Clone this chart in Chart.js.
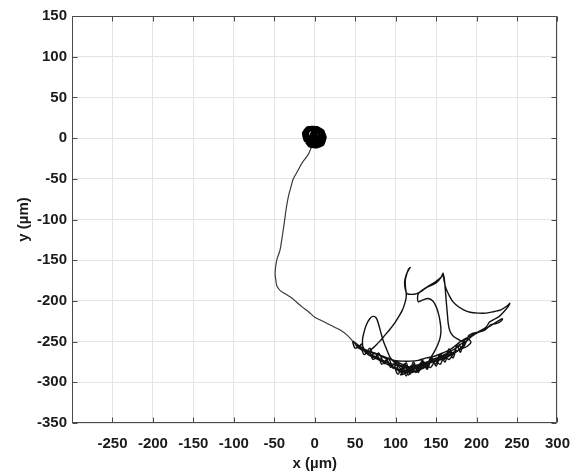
<!DOCTYPE html>
<html>
<head>
<meta charset="utf-8">
<script src="https://cdn.jsdelivr.net/npm/chart.js@4.4.1/dist/chart.umd.min.js"></script>
<style>
  html, body { margin: 0; padding: 0; background: #ffffff; }
  #wrap { position: relative; width: 582px; height: 474px; }
</style>
</head>
<body>
<div id="wrap"><canvas id="trajetoria"></canvas></div>
<script>
/* trajetória de uma célula: posição (x, y) em µm */

const xTicks = [-300, -250, -200, -150, -100, -50, 0, 50, 100, 150, 200, 250, 300];
const yTicks = [150, 100, 50, 0, -50, -100, -150, -200, -250, -300, -350];

// aglomerado inicial em torno da origem
const originCluster = [
  [-4,-11],[-8,-6],[-12,0],[-10,8],[-4,12],[4,11],[10,6],[11,-2],[6,-8],[0,-10],
  [-7,-4],[-11,4],[-6,10],[2,8],[8,2],[9,-6],[2,-9],[-5,-8],[-9,2],[-8,9],
  [0,12],[7,9],[11,3],[7,-5],[-1,-6],[-6,0],[-3,7],[5,6],[6,-2],[0,-4],
  [-4,3],[1,4],[3,-1],[-2,-2],[-12,-3],[-14,6],[-9,13],[3,13],[10,9],[13,1],
  [10,-8],[3,-11],[-6,-10],[-10,-5],[-2,1],[4,2],[-4,-11]
];

// descida até a bacia
const descent = [
  [-4,-11],[-8,-20],[-16,-31],[-22,-42],[-26.5,-50],[-30,-62],[-32.6,-72],[-35,-85],
  [-36.7,-97],[-38.5,-110],[-40.8,-125],[-43,-138],[-47,-150],[-49,-166],[-48,-175],
  [-47,-181],[-43,-187],[-37,-191],[-30.6,-195],[-23,-201],[-16,-207],[-8,-213],
  [0,-220],[8,-224],[16,-228],[24,-232],[32,-236],[40,-242],[46.5,-249]
];

// movimento na bacia (y ~ -250 a -290) com excursões
const basin = [
  [46.5,-249],[52,-253],[58,-257],[65,-261],[72,-264],[80,-267],[89,-271],[98,-273],
  [108,-274],[118,-274],[128,-273],[138,-270],[148,-268],[158,-264],[167,-260],[174,-255],
  [180,-250],[185,-247],
  [191,-244],[198,-240],[206,-236],[212,-232],[216,-226],[221,-223],[228,-219],[234,-213],
  [239,-207],[241,-203],[238,-206],[230,-211],[222,-213],[212,-215],[202,-215],[192,-214],
  [184,-211],[176,-206],[170,-200],[166,-193],[162,-184],[160,-176],[159,-169],[158.5,-166],
  [160,-172],[161,-182],[162,-194],[163,-206],[164,-217],[165,-228],[167,-237],[171,-243],
  [177,-247],[183,-250],
  [187,-250],[182,-259],[177,-252],[171,-266],[166,-259],[160,-272],[155,-265],[149,-278],
  [144,-270],[138,-283],[133,-273],[127,-287],[122,-275],[116,-291],[111,-277],[105,-288],
  [100,-275],[94,-282],[89,-272],[83,-278],[78,-268],[72,-272],[67,-262],[61,-266],
  [56,-256],[50,-258],[47,-251],
  [48,-250],[54,-258],[58,-253],[63,-264],[68,-258],[74,-270],[79,-264],[86,-277],
  [91,-270],[97,-283],[102,-274],[108,-289],[113,-276],[118,-290],[123,-277],[128,-288],
  [134,-274],[139,-284],[145,-270],[150,-280],[156,-267],[161,-275],[166,-262],[171,-270],
  [176,-255],[180,-263],[185,-248],
  [190,-247],[193,-251],[188,-256],[181,-259],
  [172,-263],[160,-268],[148,-273],[136,-278],[124,-282],[112,-287],[104,-286],[96,-281],
  [86,-276],[76,-271],[66,-266],[60,-258],[59,-248],[61,-238],[64,-229],[68,-222],
  [72,-219],[76,-221],[79,-229],[82,-240],[85,-250],[89,-260],[93,-269],[99,-276],
  [108,-280],[118,-282],[130,-280],[142,-276],[154,-270],[164,-264],
  [156,-270],[144,-275],[130,-279],[118,-281],[106,-277],[95,-272],[84,-268],[74,-264],
  [68,-262],
  [74,-256],[80,-250],[86,-243],[92,-236],[99,-227],[104,-219],[108,-212],[111,-204],
  [113,-196],[113,-190],[112,-182],[112,-174],[114,-166],[116,-161],[118,-159],
  [116,-162],[113,-168],[111,-177],[112,-186],[114,-191],[120,-192],[126,-191],
  [132,-188],[139,-183],[146,-180],[152,-176],[156,-171],[158.5,-166],
  [157,-170],[150,-176],[142,-181],[134,-186],[128,-191],
  [127,-197],[128,-201],[133,-199],[140,-197],[146,-200],[150,-207],[153,-216],[155,-226],
  [156,-236],[155,-245],[152,-254],[148,-262],
  [142,-272],[136,-282],[131,-276],[125,-288],[119,-280],[113,-292],[108,-282],[103,-290],
  [99,-281],[106,-286],[112,-279],[118,-287],[124,-279],[130,-285],[137,-277],[143,-282],
  [149,-274],[155,-278],[160,-269],[166,-272],[170,-266],
  [160,-271],[150,-274],[140,-277],[130,-281],[120,-285],[112,-289],[106,-291],[110,-287],
  [118,-283],[126,-279],[136,-276],[146,-272],[158,-267],[168,-262],[176,-257],
  [182,-252],[188,-249],[190,-243],[195,-240],[203,-238],[210,-236],[218,-229],[224,-228],
  [230,-225],[232,-222],[226,-225],[218,-230],[208,-236],[198,-241],[190,-247],[183,-255],
  [176,-262],
  [168,-266],[158,-270],[146,-275],[134,-279],[122,-283],[112,-286],[100,-283],[90,-276],
  [80,-271],[70,-266],[60,-260],[52,-255],[56,-259],[64,-263],[74,-268],[84,-273],
  [94,-277],[104,-280],[114,-281],[124,-281],[134,-278],
  [128,-284],[120,-288],[114,-284],[108,-288],[112,-282],[120,-283],[128,-280],[136,-281],
  [142,-277],[134,-283],[124,-286],[116,-287]
];

function toPoints(arr) {
  return arr.map(function (p) { return { x: p[0], y: p[1] }; });
}

const FONT = 'Liberation Sans, Arial, Helvetica, sans-serif';
const colors = {
  grid: '#e4e4e4',
  frame: '#4a4a4a',
  text: '#1a1a1a',
  line: '#111111'
};

// moldura com marcas para dentro, estilo MATLAB
const framePlugin = {
  id: 'frame',
  afterDatasetsDraw: function (chart) {
    const ctx = chart.ctx;
    const a = chart.chartArea;
    const sx = chart.scales.x, sy = chart.scales.y;
    const L = Math.round(a.left) + 0.5, R = Math.round(a.right) - 0.5;
    const T = Math.round(a.top) + 0.5, B = Math.round(a.bottom) - 0.5;
    const len = 5;
    ctx.save();
    ctx.strokeStyle = colors.frame;
    ctx.lineWidth = 1;
    ctx.beginPath();
    ctx.rect(L, T, R - L, B - T);
    xTicks.forEach(function (v) {
      const px = Math.round(sx.getPixelForValue(v)) + 0.5;
      ctx.moveTo(px, B); ctx.lineTo(px, B - len);
      ctx.moveTo(px, T); ctx.lineTo(px, T + len);
    });
    yTicks.forEach(function (v) {
      const py = Math.round(sy.getPixelForValue(v)) + 0.5;
      ctx.moveTo(L, py); ctx.lineTo(L + len, py);
      ctx.moveTo(R, py); ctx.lineTo(R - len, py);
    });
    ctx.stroke();
    ctx.restore();
  }
};

const canvas = document.getElementById('trajetoria');

new Chart(canvas, {
  type: 'scatter',
  data: {
    datasets: [
      {
        label: 'origem',
        data: toPoints(originCluster),
        showLine: true,
        borderColor: '#000000',
        borderWidth: 3,
        pointRadius: 0,
        tension: 0.1
      },
      {
        label: 'descida',
        data: toPoints(descent),
        showLine: true,
        borderColor: '#3a3a3a',
        borderWidth: 1.2,
        pointRadius: 0,
        tension: 0.3
      },
      {
        label: 'bacia',
        data: toPoints(basin),
        showLine: true,
        borderColor: colors.line,
        borderWidth: 1.4,
        pointRadius: 0,
        tension: 0.3
      }
    ]
  },
  options: {
    responsive: true,
    maintainAspectRatio: false,
    animation: false,
    layout: { padding: { left: 0, right: 20, top: 16, bottom: 0 } },
    plugins: {
      legend: { display: false },
      tooltip: { enabled: false }
    },
    scales: {
      x: {
        type: 'linear',
        min: -300,
        max: 300,
        afterBuildTicks: function (s) {
          s.ticks = xTicks.map(function (v) { return { value: v }; });
        },
        afterFit: function (s) { s.height = 51; },
        grid: { color: colors.grid, drawTicks: false },
        border: { display: false },
        ticks: {
          color: colors.text,
          font: { size: 15, weight: 'bold', family: FONT },
          padding: 12,
          maxRotation: 0,
          autoSkip: false,
          callback: function (v) { return v === -300 ? '' : v; }
        },
        title: {
          display: true,
          text: 'x (µm)',
          color: colors.text,
          font: { size: 15, weight: 'bold', family: FONT },
          padding: { top: 0, bottom: 1 }
        }
      },
      y: {
        type: 'linear',
        min: -350,
        max: 150,
        afterBuildTicks: function (s) {
          s.ticks = yTicks.map(function (v) { return { value: v }; });
        },
        afterFit: function (s) { s.width = 72; },
        grid: { color: colors.grid, drawTicks: false },
        border: { display: false },
        ticks: {
          color: colors.text,
          font: { size: 15, weight: 'bold', family: FONT },
          padding: 5,
          autoSkip: false
        },
        title: {
          display: true,
          text: 'y (µm)',
          color: colors.text,
          font: { size: 15, weight: 'bold', family: FONT },
          padding: { top: 15, bottom: 0 }
        }
      }
    }
  },
  plugins: [framePlugin]
});
</script>
</body>
</html>
